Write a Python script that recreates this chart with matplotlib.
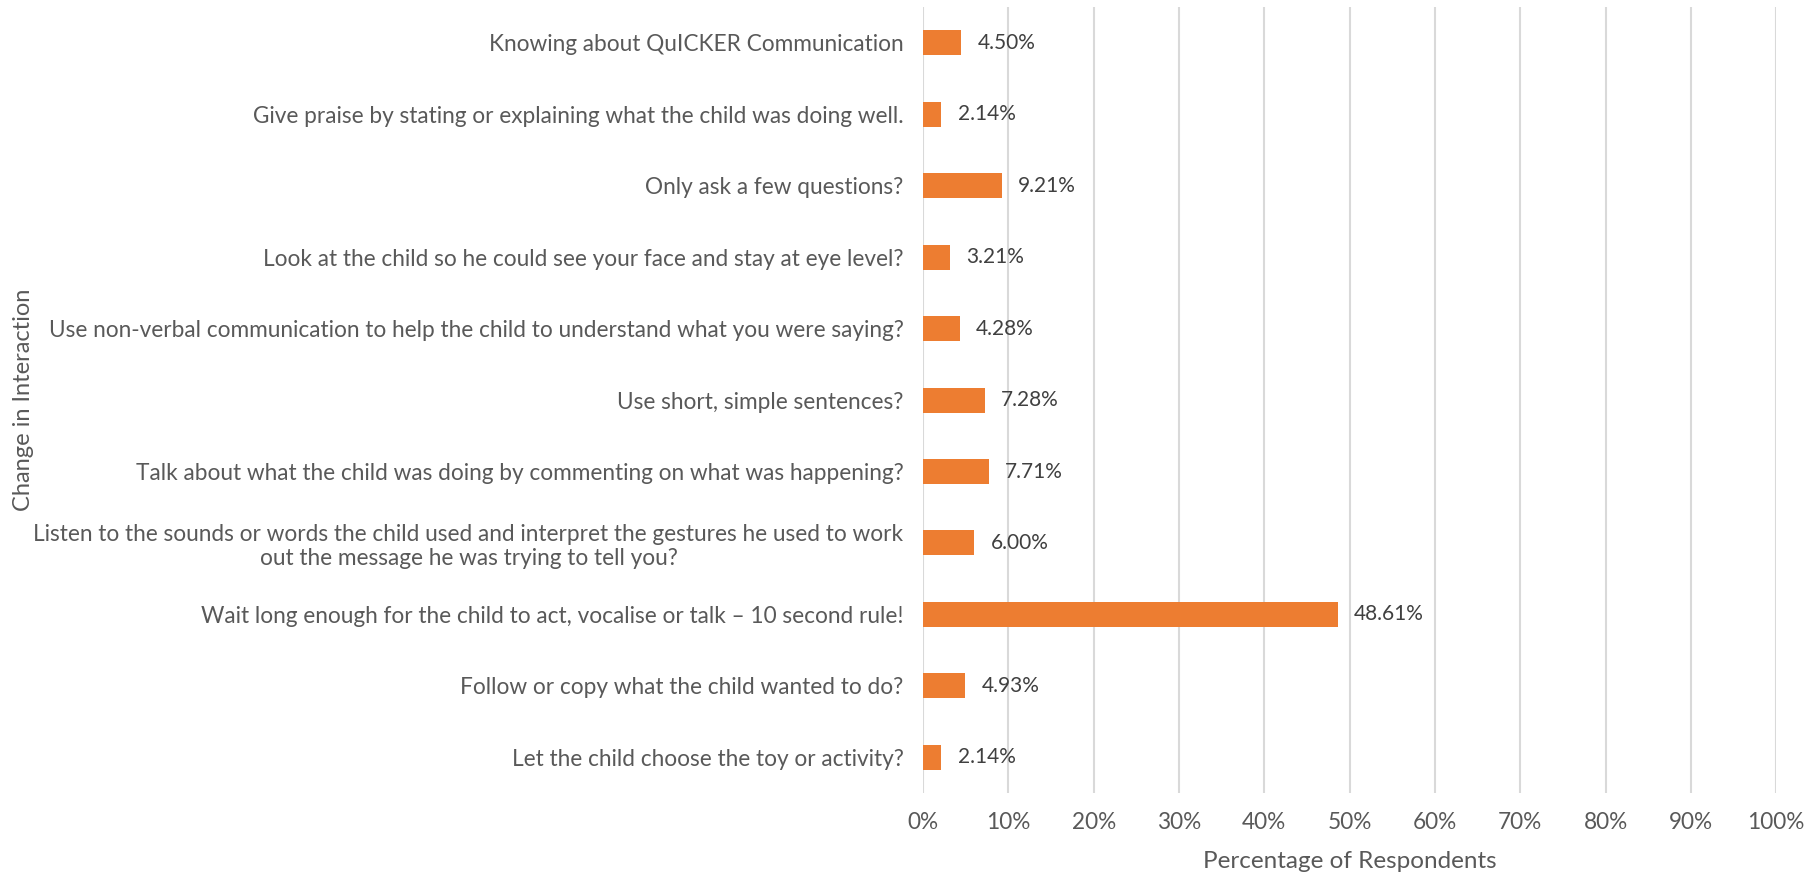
import matplotlib.pyplot as plt
from matplotlib.ticker import MultipleLocator, PercentFormatter

categories = [
    "Knowing about QuICKER Communication",
    "Give praise by stating or explaining what the child was doing well.",
    "Only ask a few questions?",
    "Look at the child so he could see your face and stay at eye level?",
    "Use non-verbal communication to help the child to understand what you were saying?",
    "Use short, simple sentences?",
    "Talk about what the child was doing by commenting on what was happening?",
    "Listen to the sounds or words the child used and interpret the gestures he used to work\nout the message he was trying to tell you?",
    "Wait long enough for the child to act, vocalise or talk \u2013 10 second rule!",
    "Follow or copy what the child wanted to do?",
    "Let the child choose the toy or activity?",
]
percentages = [4.50, 2.14, 9.21, 3.21, 4.28, 7.28, 7.71, 6.00, 48.61, 4.93, 2.14]

plt.rcParams['font.family'] = ['Lato', 'DejaVu Sans']

fig = plt.figure(figsize=(18.17, 8.77), dpi=100)
ax = fig.add_axes([0.508, 0.0958, 0.4695, 0.896])

positions = list(range(len(categories)))
ax.barh(positions, percentages, height=0.35, color='#ED7D31', zorder=3)

for y, v in zip(positions, percentages):
    ax.text(v + 1.9, y, f"{v:.2f}%", va='center', ha='left',
            fontsize=15, color='#404040')

ax.set_yticks(positions)
ax.set_yticklabels(categories, fontsize=16.3, color='#595959')
for lbl in ax.get_yticklabels():
    lbl.set_multialignment('center')
ax.set_ylim(len(categories) - 0.5, -0.5)

ax.set_xlim(0, 100)
ax.xaxis.set_major_locator(MultipleLocator(10))
ax.xaxis.set_major_formatter(PercentFormatter(decimals=0))
ax.tick_params(axis='x', labelsize=16.3, labelcolor='#595959', length=0, pad=14)
ax.tick_params(axis='y', length=0, pad=14)
ax.grid(axis='x', color='#D9D9D9', linewidth=1.5, zorder=0)
for side in ax.spines.values():
    side.set_visible(False)

ax.set_xlabel('Percentage of Respondents', fontsize=17.5, color='#595959', labelpad=13)
fig.text(0.0127, 0.544, 'Change in Interaction', rotation=90, fontsize=17,
         color='#595959', ha='center', va='center')

fig.savefig('out.png', dpi=100, facecolor='white')
